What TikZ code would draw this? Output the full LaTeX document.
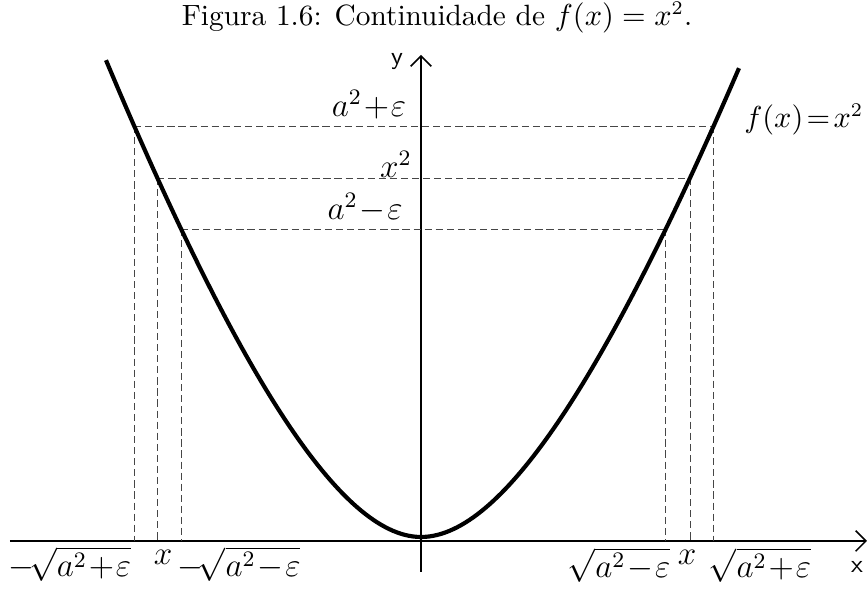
\documentclass[tikz,border=0pt]{standalone}
\usetikzlibrary{arrows.meta}
\definecolor{curvecolor}{RGB}{0,0,0}
\definecolor{guidecolor}{RGB}{70,70,70}
\tikzset{
    axis/.style={
        line width=0.55pt,
        -{Straight Barb[length=1.3mm, width=2.6mm]}
    },
    curve/.style={curvecolor, line width=1.5pt},
    guide/.style={guidecolor, line width=0.35pt, dash pattern=on 2.6pt off 1.4pt},
    lbl/.style={font=\fontsize{11.5}{13}\selectfont, inner sep=1pt},
    axislabel/.style={font=\sffamily\small, inner sep=1pt}
}

\begin{document}
\begin{tikzpicture}[x=0.0127cm, y=-0.0127cm]
    \useasboundingbox (0,0) rectangle (868,596);
    \node[font=\fontsize{10.6}{13}\selectfont] (title) at (437,18)
        {Figura 1.6: Continuidade de $f(x)=x^2$.};

    % Axes
    \coordinate (O) at (421,541);
    \coordinate (xstart) at (10,541);
    \coordinate (xend) at (867,541);
    \coordinate (ystart) at (421,572);
    \coordinate (yend) at (421,55);
    \draw[axis] (xstart) -- (xend);
    \draw[axis] (ystart) -- (yend);
    \node[axislabel] (ylabel) at (397,62) {y};
    \node[axislabel] (xlabel) at (857,567) {x};

    % Points on the curve
    \coordinate (Lhi) at (134.2,126);
    \coordinate (Lmid) at (157.3,178);
    \coordinate (Llo) at (181,229);
    \coordinate (Rlo) at (665.9,229);
    \coordinate (Rmid) at (690.1,178);
    \coordinate (Rhi) at (713.7,126);

    % Guides
    \draw[guide] (Lhi) -- (Rhi);
    \draw[guide] (Lmid) -- (Rmid);
    \draw[guide] (Llo) -- (Rlo);
    \foreach \p in {Lhi,Lmid,Llo,Rlo,Rmid,Rhi}
        \draw[guide] (\p) -- (\p |- O);

    % Curve
    \draw[curve]
        plot[domain=-3.15:0, samples=80]
            ({421+100*\x}, {537-84*\x*\x/(1-0.2375*\x)})
        -- plot[domain=0:3.18, samples=80]
            ({421+100*\x}, {537-84*(0.98*\x)^2/(1+0.2375*0.98*\x)});

    % Labels
    \node[lbl] (ahi) at (369,105) {$a^2\!+\!\varepsilon$};
    \node[lbl] (xsq) at (396,164) {$x^2$};
    \node[lbl] (alo) at (365,208) {$a^2\!-\!\varepsilon$};
    \node[lbl, anchor=west, font=\fontsize{10.5}{12}\selectfont] (fx) at (741,120)
        {$f(x)\!=\!x^2$};

    \node[lbl] (nhi) at (70,564) {$-\!\sqrt{a^2\!+\!\varepsilon}$};
    \node[lbl] (xl) at (163,557) {$x$};
    \node[lbl] (nlo) at (239,564) {$-\!\sqrt{a^2\!-\!\varepsilon}$};
    \node[lbl] (plo) at (619,565) {$\sqrt{a^2\!-\!\varepsilon}$};
    \node[lbl] (xr) at (687,557) {$x$};
    \node[lbl] (phi) at (760,565) {$\sqrt{a^2\!+\!\varepsilon}$};
\end{tikzpicture}
\end{document}
